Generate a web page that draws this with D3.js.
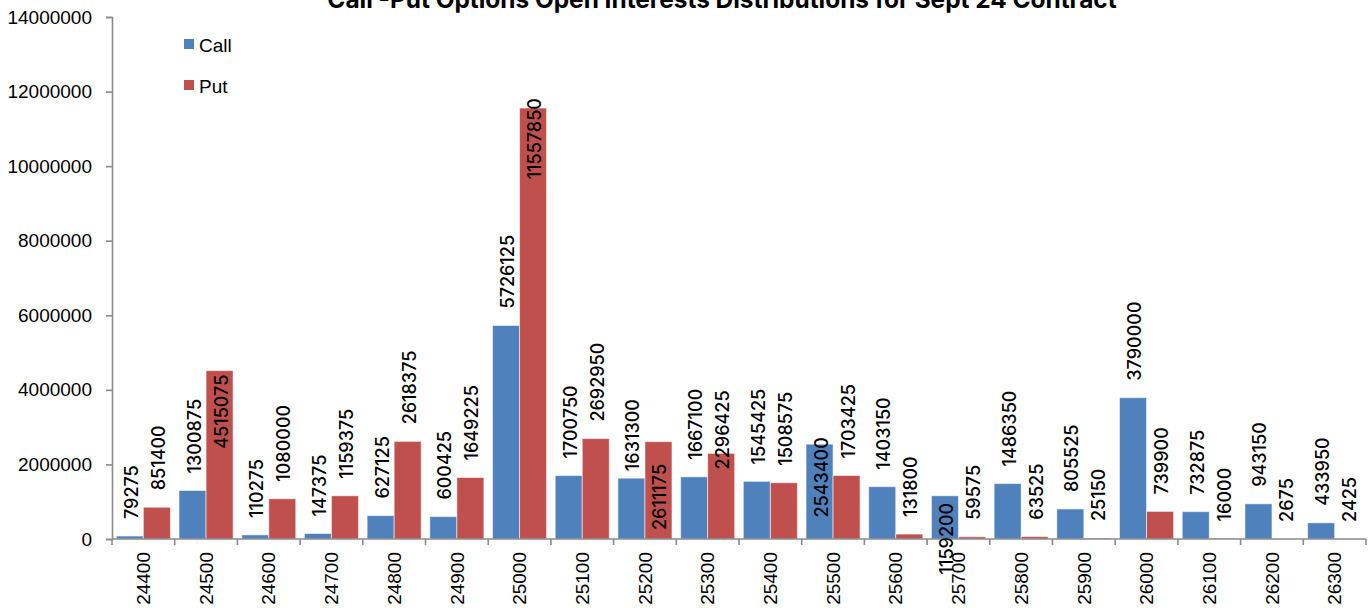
<!DOCTYPE html>
<html><head><meta charset="utf-8">
<script src="https://cdn.jsdelivr.net/npm/d3@7"></script>
<style>
html,body{margin:0;padding:0;background:#fff;}
svg{display:block;}
</style></head>
<body>
<svg id="chart" width="1370" height="608"></svg>
<script>
const title = "Call -Put Options Open Interests Distributions for Sept 24 Contract";
const strikes = ["24400","24500","24600","24700","24800","24900","25000","25100","25200","25300",
                 "25400","25500","25600","25700","25800","25900","26000","26100","26200","26300"];
const callOI = [79275,1300875,110275,147375,627125,600425,5726125,1700750,1631300,1667100,
                1545425,2543400,1403150,1159200,1486350,805525,3790000,732875,943150,433950];
const putOI  = [851400,4515075,1080000,1159375,2618375,1649225,11557850,2692950,2611175,2296425,
                1508575,1703425,131800,59575,63525,25150,739900,16000,2675,2425];
const seriesNames = ["Call","Put"];
const yTicks = [0,2000000,4000000,6000000,8000000,10000000,12000000,14000000];

// label placement tweaks (style, not data): [series, strike, mode, px]
const labelAdjust = [
  ["Put","24500","top",4],
  ["Put","25000","top",-10],
  ["Put","25200","axis",-9],
  ["Call","25200","bottom",-7],
  ["Put","25300","bottom",16],
  ["Call","25500","top",-7],
  ["Call","25700","top",7]
];

const colors = {Call:"#4F81BD", Put:"#C0504D"};
const svg = d3.select("#chart");
const m = {left:112, right:1366, top:17, bottom:539};

const x0 = d3.scaleBand().domain(strikes).range([m.left, m.right]).paddingInner(0).paddingOuter(0);
const bw = x0.bandwidth();
const x1 = d3.scaleBand().domain(seriesNames).range([bw*0.069, bw*0.931]).padding(0);
const y = d3.scaleLinear().domain([0,14000000]).range([m.bottom, m.top]);

const rows = strikes.map((s,i)=>({strike:s, Call:callOI[i], Put:putOI[i]}));

// bars
const g = svg.append("g");
rows.forEach(r=>{
  seriesNames.forEach(sn=>{
    g.append("rect")
      .attr("x", x0(r.strike)+x1(sn))
      .attr("y", y(r[sn]))
      .attr("width", x1.bandwidth())
      .attr("height", y(0)-y(r[sn]))
      .attr("fill", colors[sn])
      .attr("stroke","#ffffff").attr("stroke-opacity",0.55).attr("stroke-width",1);
  });
});

// axes
const axisColor = "#8a8a8a";
const yAxis = svg.append("g").attr("transform",`translate(${m.left},0)`)
  .call(d3.axisLeft(y).tickValues(yTicks).tickFormat(d3.format("d")).tickSize(6).tickPadding(14));
yAxis.select(".domain").attr("stroke",axisColor).attr("stroke-width",1.6);
yAxis.selectAll(".tick line").attr("stroke",axisColor).attr("stroke-width",1.6);
yAxis.selectAll("text").attr("font-family","'Liberation Sans', Arial, sans-serif")
  .attr("font-size",19).attr("fill","#000");

// x axis line and ticks at band boundaries
svg.append("line").attr("x1",m.left).attr("x2",m.right).attr("y1",y(0)).attr("y2",y(0))
  .attr("stroke",axisColor).attr("stroke-width",1.6);
const bounds = strikes.map(s=>x0(s)).concat([m.right]);
svg.append("g").selectAll("line").data(bounds).join("line")
  .attr("x1",d=>d).attr("x2",d=>d).attr("y1",y(0)).attr("y2",y(0)+6)
  .attr("stroke",axisColor).attr("stroke-width",1.6);
svg.append("g").selectAll("text").data(strikes).join("text")
  .attr("transform",d=>`translate(${x0(d)+bw/2},${y(0)+13}) rotate(-90)`)
  .attr("text-anchor","end").attr("dy","0.35em")
  .attr("font-family","'Liberation Sans', Arial, sans-serif").attr("font-size",19).attr("fill","#000")
  .text(d=>d);

// data labels
const lbl = svg.append("g");
rows.forEach(r=>{
  seriesNames.forEach(sn=>{
    const v = r[sn];
    const top = y(v);
    const adj = labelAdjust.find(a=>a[0]===sn && a[1]===r.strike);
    let anchor = "start", py = top - 17;
    if (adj){
      if (adj[2]==="top"){ anchor="end"; py = top + adj[3]; }
      else if (adj[2]==="bottom"){ py = top + adj[3]; }
      else if (adj[2]==="axis"){ py = y(0) + adj[3]; }
    }
    const cx = x0(r.strike)+x1(sn)+x1.bandwidth()/2 + 1.5;
    lbl.append("text")
      .attr("transform",`translate(${cx},${py}) rotate(-90)`)
      .attr("text-anchor",anchor).attr("dy","0.36em")
      .attr("font-family","Inter, 'Noto Sans', sans-serif").attr("font-weight",500).attr("font-size",18).attr("fill","#000")
      .text(v);
  });
});

// legend
const leg = svg.append("g");
seriesNames.forEach((sn,i)=>{
  leg.append("rect").attr("x",184).attr("y",39+i*41).attr("width",10).attr("height",10).attr("fill",colors[sn]);
  leg.append("text").attr("x",199).attr("y",52+i*41)
    .attr("font-family","'Liberation Sans', Arial, sans-serif").attr("font-size",19).attr("fill","#000").text(sn);
});

// title
svg.append("text").attr("x",722).attr("y",8).attr("text-anchor","middle")
  .attr("font-family","Inter, 'Noto Sans', sans-serif").attr("font-weight",700).attr("font-size",24.4)
  .attr("fill","#000").text(title);
</script>
</body></html>
